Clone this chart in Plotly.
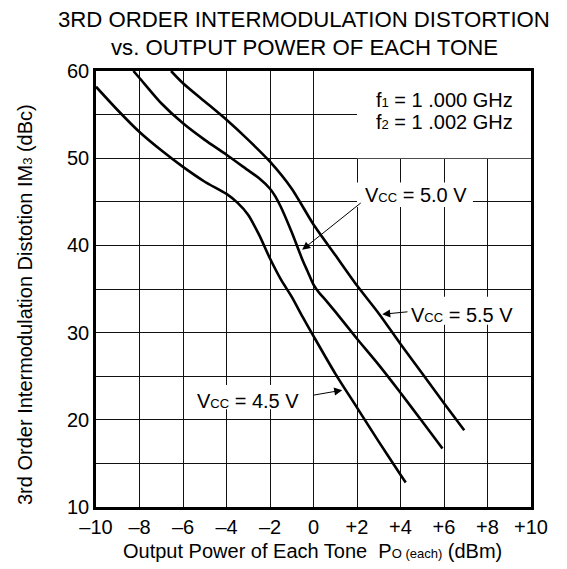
import plotly.graph_objects as go

FONT = "Liberation Sans, Arial, Helvetica, sans-serif"

# Data
x_45 = [-10, -9, -8, -7, -6, -5, -4, -3.5, -3, -2.5, -2, -1.5, -1, -0.5, 0, 1, 2, 3, 4, 4.24]
y_45 = [58.2, 55.5, 53.0, 50.9, 49.0, 47.3, 45.9, 44.9, 43.5, 41.2, 38.5, 36.1, 34.1, 31.8, 29.6, 25.3, 21.4, 17.5, 13.7, 12.8]

x_50 = [-8.28, -8, -7, -6, -5, -4, -3, -2.5, -2, -1.75, -1.5, -1, -0.5, -0.25, 0, 0.25, 0.5, 1, 2, 3, 4, 5, 5.93]
y_50 = [60, 59.2, 56.3, 54.0, 52.1, 50.4, 48.6, 47.7, 46.5, 45.6, 44.4, 41.5, 38.3, 36.9, 35.5, 34.6, 33.9, 32.4, 29.3, 26.3, 23.1, 19.8, 16.7]

x_55 = [-6.55, -6, -5, -4, -3, -2, -1, 0, 1, 2, 3, 4, 5, 6, 6.93]
y_55 = [60, 58.6, 56.5, 54.4, 52.1, 49.6, 46.5, 42.4, 38.9, 35.4, 32.2, 28.7, 25.3, 21.9, 18.8]

x_ticks = [-10, -8, -6, -4, -2, 0, 2, 4, 6, 8, 10]
x_ticktext = ["\u201310", "\u20138", "\u20136", "\u20134", "\u20132", "0", "+2", "+4", "+6", "+8", "+10"]
y_ticks = [10, 15, 20, 25, 30, 35, 40, 45, 50, 55, 60]
y_ticktext = ["10", "", "20", "", "30", "", "40", "", "50", "", "60"]

# plot area in figure pixels (page body adds an 8 px offset)
L, R, T, B = 88, 36, 63, 62
W, H = 559, 561
PW, PH = W - L - R, H - T - B


def px(fx, fy):
    """screen pixel -> paper coords"""
    return (fx - 8 - L) / PW, (H - B - (fy - 8)) / PH


fig = go.Figure()
for xs, ys in [(x_45, y_45), (x_50, y_50), (x_55, y_55)]:
    fig.add_trace(go.Scatter(x=xs, y=ys, mode="lines",
                             line=dict(color="black", width=2.6, shape="spline", smoothing=0.7),
                             showlegend=False, hoverinfo="skip"))

# white boxes behind labels (above gridlines, below traces)
boxes = [(2, 10, 50, 60), (2, 7.33, 44.4, 47.2), (-5.65, -0.4, 21.2, 24.0), (4.24, 9.5, 30.9, 34.1)]
for x0, x1, y0, y1 in boxes:
    fig.add_shape(type="rect", x0=x0, x1=x1, y0=y0, y1=y1, fillcolor="white",
                  line=dict(width=0), layer="between")

sub = "<span style='font-size:13px'>{}</span>"
texts = [
    ("f" + sub.format("1") + " = 1 .000 GHz", 6.0, 56.7),
    ("f" + sub.format("2") + " = 1 .002 GHz", 6.0, 54.2),
    ("V" + sub.format("CC") + " = 5.0 V", 4.7, 45.8),
    ("V" + sub.format("CC") + " = 4.5 V", -3.0, 22.1),
    ("V" + sub.format("CC") + " = 5.5 V", 6.83, 32.05),
]
for t, xx, yy in texts:
    fig.add_annotation(x=xx, y=yy, text=t, showarrow=False,
                       font=dict(family=FONT, size=20, color="black"))

arrows = [((2.24, 45.0), (-0.52, 39.5)), ((-0.06, 22.8), (1.32, 23.4)), ((4.39, 32.4), (3.16, 32.1))]
for (tx, ty), (hx, hy) in arrows:
    fig.add_annotation(x=hx, y=hy, ax=tx, ay=ty, axref="x", ayref="y", text="",
                       showarrow=True, arrowhead=2, arrowsize=1.6, arrowwidth=1, arrowcolor="black")

# titles
for line, sy in [("3RD ORDER INTERMODULATION DISTORTION", 19), ("vs. OUTPUT POWER OF EACH TONE", 47)]:
    ax_, ay_ = px(304, sy)
    fig.add_annotation(xref="paper", yref="paper", x=ax_, y=ay_, text=line, showarrow=False,
                       xanchor="center", yanchor="middle",
                       font=dict(family=FONT, size=22.2, color="black"))

xt = px(312, 551)
fig.add_annotation(xref="paper", yref="paper", x=xt[0], y=xt[1], showarrow=False,
                   xanchor="center", yanchor="middle",
                   text="Output Power of Each Tone\u00a0\u00a0P" + sub.format("O (each)") + " (dBm)",
                   font=dict(family=FONT, size=20, color="black"))
yt = px(25, 305)
fig.add_annotation(xref="paper", yref="paper", x=yt[0], y=yt[1], showarrow=False, textangle=-90,
                   xanchor="center", yanchor="middle",
                   text="3rd Order Intermodulation Distotion IM" + sub.format("3") + " (dBc)",
                   font=dict(family=FONT, size=20, color="black"))

fig.update_layout(
    width=W, height=H,
    margin=dict(l=L, r=R, t=T, b=B),
    paper_bgcolor="white", plot_bgcolor="white",
    font=dict(family=FONT, size=20, color="black"),
)
fig.update_xaxes(range=[-10, 10], tickvals=x_ticks, ticktext=x_ticktext,
                 showgrid=True, gridcolor="#111", gridwidth=1, zeroline=False,
                 showline=True, linecolor="black", linewidth=2.6, mirror=True,
                 ticks="", tickfont=dict(size=20))
fig.update_yaxes(range=[10, 60], tickvals=y_ticks, ticktext=y_ticktext,
                 showgrid=True, gridcolor="#111", gridwidth=1, zeroline=False,
                 showline=True, linecolor="black", linewidth=2.6, mirror=True,
                 ticks="", tickfont=dict(size=20))

fig.write_html("out.html")
